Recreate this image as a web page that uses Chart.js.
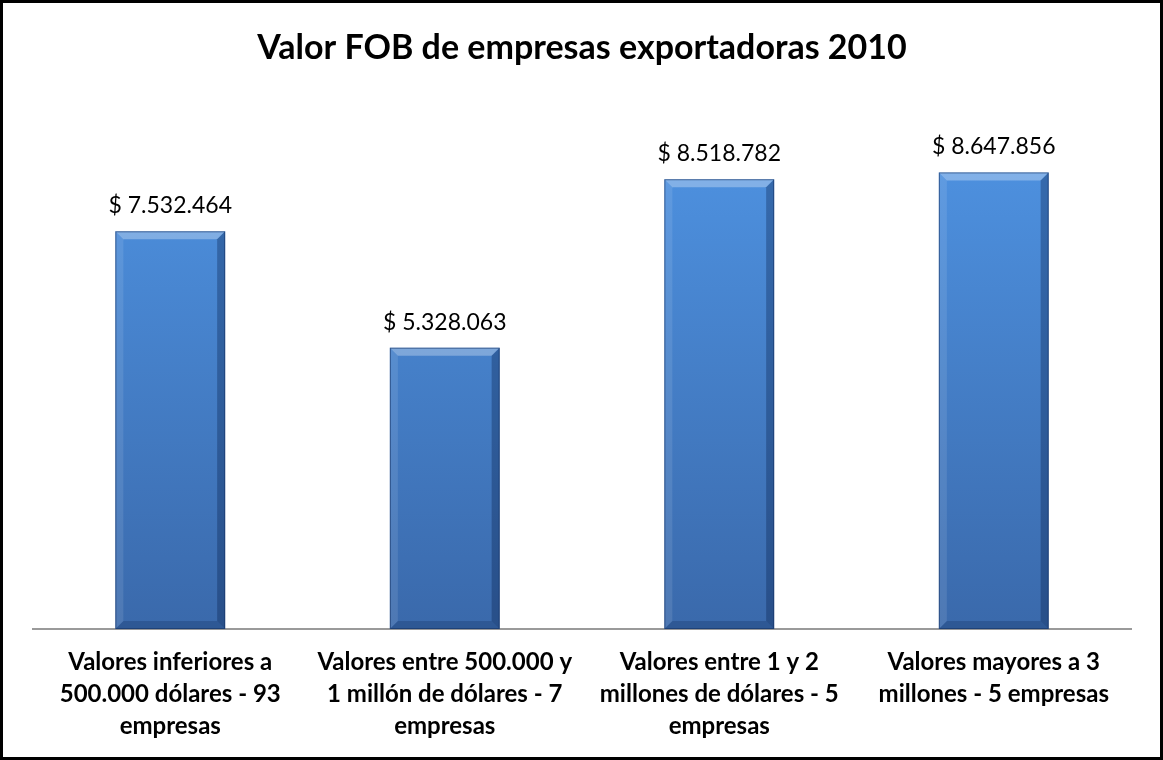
<!DOCTYPE html>
<html>
<head>
<meta charset="utf-8">
<script src="https://cdn.jsdelivr.net/npm/chart.js@4.4.0/dist/chart.umd.min.js"></script>
<style>
  html, body { margin: 0; padding: 0; background: #fff; }
  #wrap { width: 1163px; height: 760px; position: relative; }
</style>
</head>
<body>
<div id="wrap"><canvas id="fob" width="1163" height="760"></canvas></div>
<script>
const categorias = [
  ['Valores inferiores a', '500.000 dólares - 93', 'empresas'],
  ['Valores entre 500.000 y', '1 millón de dólares - 7', 'empresas'],
  ['Valores entre 1 y 2', 'millones de dólares - 5', 'empresas'],
  ['Valores mayores a 3', 'millones - 5 empresas']
]
const valorFOB = [7532464, 5328063, 8518782, 8647856]
const tituloGrafico = 'Valor FOB de empresas exportadoras 2010'

const FONT = 'Lato, "Open Sans", sans-serif'

// formato "$ 7.532.464"
function formatoDolar(v) {
  return '$ ' + String(v).replace(/\B(?=(\d{3})+(?!\d))/g, '.')
}

// marco negro alrededor del grafico
const marcoPlugin = {
  id: 'marco',
  beforeDraw(chart) {
    const c = chart.ctx
    c.save()
    c.fillStyle = '#fff'
    c.fillRect(0, 0, chart.width, chart.height)
    c.restore()
  },
  afterDraw(chart) {
    const c = chart.ctx
    c.save()
    c.strokeStyle = '#000'
    c.lineWidth = 3
    c.strokeRect(1.5, 1.5, chart.width - 3, chart.height - 3)
    c.restore()
  }
}

// efecto biselado de las barras + etiquetas de valor
const biselPlugin = {
  id: 'bisel',
  afterDatasetsDraw(chart) {
    const c = chart.ctx
    const meta = chart.getDatasetMeta(0)
    c.save()
    meta.data.forEach((bar, i) => {
      const { x, y, width, base } = bar.getProps(['x', 'y', 'width', 'base'], true)
      const l = x - width / 2, r = x + width / 2, t = y, b = base
      const s = 8
      // arriba claro
      c.fillStyle = 'rgba(255,255,255,0.3)'
      c.beginPath(); c.moveTo(l, t); c.lineTo(r, t); c.lineTo(r - s, t + s); c.lineTo(l + s, t + s); c.closePath(); c.fill()
      // izquierda
      c.fillStyle = 'rgba(255,255,255,0.1)'
      c.beginPath(); c.moveTo(l, t); c.lineTo(l + s, t + s); c.lineTo(l + s, b - s); c.lineTo(l, b); c.closePath(); c.fill()
      // derecha oscuro
      c.fillStyle = 'rgba(0,20,60,0.3)'
      c.beginPath(); c.moveTo(r, t); c.lineTo(r, b); c.lineTo(r - s, b - s); c.lineTo(r - s, t + s); c.closePath(); c.fill()
      // abajo
      c.fillStyle = 'rgba(0,20,60,0.2)'
      c.beginPath(); c.moveTo(l, b); c.lineTo(r, b); c.lineTo(r - s, b - s); c.lineTo(l + s, b - s); c.closePath(); c.fill()
      c.strokeStyle = 'rgba(20,50,100,0.6)'
      c.lineWidth = 1
      c.strokeRect(l + 0.5, t + 0.5, width - 1, b - t - 1)

      c.fillStyle = '#000'
      c.font = '23px ' + FONT
      c.textAlign = 'center'
      c.textBaseline = 'bottom'
      c.fillText(formatoDolar(valorFOB[i]), x, t - 14)
    })
    c.restore()
  }
}

new Chart(document.getElementById('fob'), {
  type: 'bar',
  data: {
    labels: categorias,
    datasets: [{
      data: valorFOB,
      backgroundColor(ctx) {
        const area = ctx.chart.chartArea
        if (!area) return '#4a84cf'
        const g = ctx.chart.ctx.createLinearGradient(0, area.top, 0, area.bottom)
        g.addColorStop(0, '#5096e6')
        g.addColorStop(1, '#3a69ab')
        return g
      },
      borderWidth: 0,
      categoryPercentage: 1,
      barPercentage: 0.4
    }]
  },
  options: {
    responsive: false,
    animation: false,
    layout: { padding: { left: 33, right: 32, top: 0, bottom: 1 } },
    plugins: {
      legend: { display: false },
      tooltip: { enabled: false },
      title: {
        display: true,
        text: tituloGrafico,
        color: '#000',
        font: { family: FONT, size: 34, weight: 'bold', lineHeight: 1.06 },
        padding: { top: 30, bottom: 35 }
      }
    },
    scales: {
      x: {
        grid: { display: false, drawTicks: false },
        border: { display: true, color: '#9a9a9a', width: 2 },
        ticks: {
          color: '#000',
          padding: 17,
          maxRotation: 0,
          autoSkip: false,
          font: { family: FONT, size: 24, weight: 'bold', lineHeight: 1.333 }
        }
      },
      y: {
        display: false,
        min: 0,
        max: 10000000
      }
    }
  },
  plugins: [marcoPlugin, biselPlugin]
})
</script>
</body>
</html>
